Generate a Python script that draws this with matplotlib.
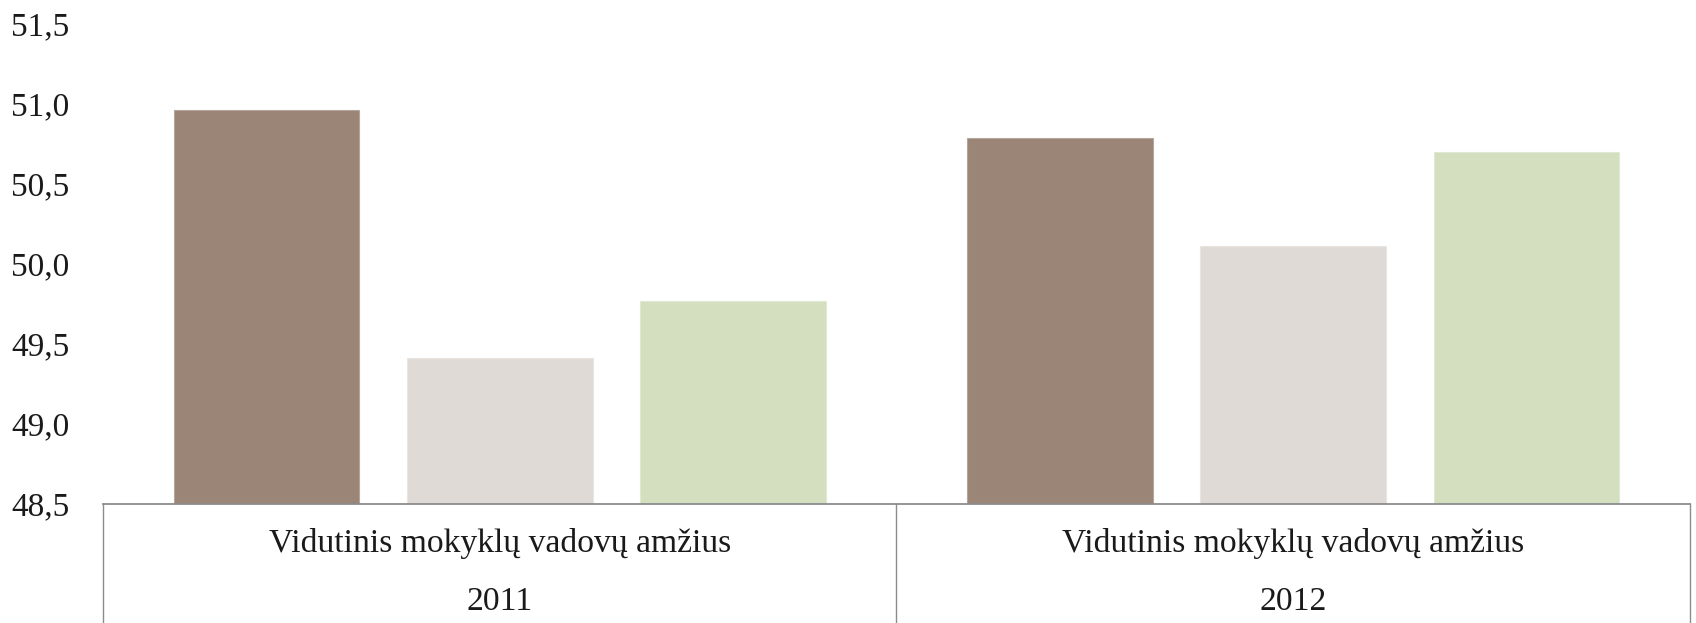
import matplotlib
matplotlib.use("Agg")
import matplotlib.pyplot as plt
import matplotlib.transforms as mtransforms
from matplotlib.ticker import FuncFormatter, MultipleLocator

plt.rcParams['font.family'] = ['Liberation Serif', 'DejaVu Serif']

categories = ["Vidutinis mokyklų vadovų amžius", "Vidutinis mokyklų vadovų amžius"]
years = ["2011", "2012"]
series_a = [50.96, 50.79]
series_b = [49.41, 50.11]
series_c = [49.77, 50.70]
colors = ["#9B8577", "#DFDAD6", "#D3DFBF"]
edgecolors = ["#B5A69C", "#E9E5E2", "#E0E9D2"]

W, H = 1696, 623
fig = plt.figure(figsize=(W / 100, H / 100), dpi=100)
left, right, top, bottom = 103, 1690, 24, 504
ax = fig.add_axes([left / W, (H - bottom) / H, (right - left) / W, (bottom - top) / H])

bw = 0.234
gap = 0.06
centers = [0.5, 1.5]
offsets = [-(bw + gap), 0, bw + gap]
for s, (vals, c, ec) in enumerate(zip([series_a, series_b, series_c], colors, edgecolors)):
    xs = [cx + offsets[s] for cx in centers]
    ax.bar(xs, [v - 48.5 for v in vals], bottom=48.5, width=bw, color=c,
           edgecolor=ec, linewidth=0.8, zorder=2)

ax.set_xlim(0, 2)
ax.set_ylim(48.5, 51.5)
ax.yaxis.set_major_locator(MultipleLocator(0.5))
ax.yaxis.set_major_formatter(FuncFormatter(lambda v, p: f"{v:.1f}".replace(".", ",")))
ax.tick_params(axis='y', length=0, pad=24, labelsize=24, labelcolor="#1a1a1a")
ax.set_xticks([])
for sp in ax.spines.values():
    sp.set_visible(False)

# category box
line_c = "#8C8C8C"
ax.plot([0, 2], [48.5, 48.5], color=line_c, lw=1.3, clip_on=False, zorder=3)
trans = mtransforms.blended_transform_factory(ax.transData, ax.transAxes)
for x in [0, 1, 2]:
    ax.plot([x, x], [0, -0.4], color=line_c, lw=1.0, transform=trans, clip_on=False)

for cx, cat, yr in zip(centers, categories, years):
    ax.text(cx, -0.083, cat, transform=trans, ha='center', va='center', fontsize=24.2, color="#1a1a1a")
    ax.text(cx, -0.204, yr, transform=trans, ha='center', va='center', fontsize=24.2, color="#1a1a1a")

fig.savefig("out.png", dpi=100)
